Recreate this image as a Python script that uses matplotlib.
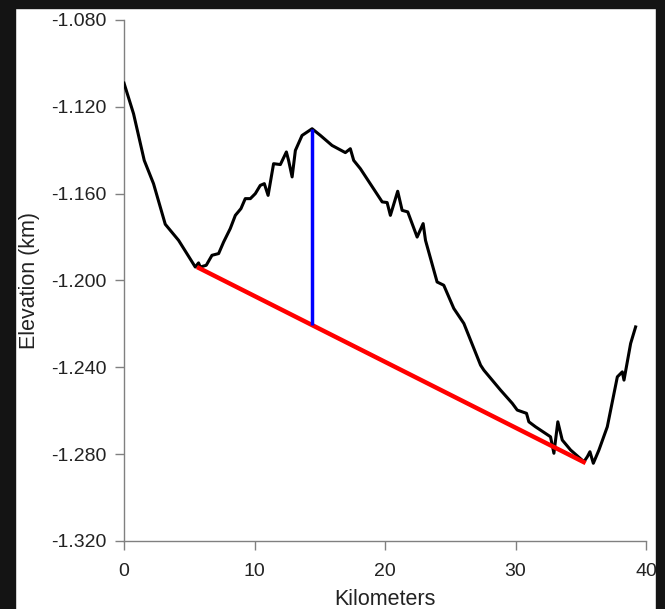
import matplotlib
matplotlib.use('Agg')
import matplotlib.pyplot as plt
from matplotlib.patches import Rectangle

# profile (km, km)
dist = [0.0, 0.73, 1.55, 2.26, 3.16, 4.18, 5.46, 5.71, 5.84, 6.30, 6.74, 7.25,
        7.63, 8.14, 8.53, 8.96, 9.29, 9.68, 10.06, 10.44, 10.75, 11.04, 11.46,
        11.98, 12.44, 12.61, 12.88, 13.13, 13.64, 14.41, 15.05, 15.94, 16.96,
        17.34, 17.60, 18.11, 19.78, 20.16, 20.41, 20.97, 21.31, 21.74, 22.46,
        22.92, 23.10, 23.99, 24.50, 25.27, 26.04, 27.32, 27.57, 28.85, 29.75,
        30.13, 30.84, 31.02, 31.53, 32.68, 32.94, 33.24, 33.58, 34.22, 35.24,
        35.50, 35.70, 35.96, 36.39, 37.03, 37.80, 38.18, 38.31, 38.82, 39.20]
elev = [-1.1091, -1.1232, -1.1447, -1.1554, -1.1741, -1.1815, -1.1938, -1.1919,
        -1.1938, -1.1930, -1.1884, -1.1876, -1.1823, -1.1761, -1.1700, -1.1669,
        -1.1623, -1.1623, -1.1600, -1.1562, -1.1554, -1.1608, -1.1462, -1.1466,
        -1.1408, -1.1447, -1.1523, -1.1401, -1.1332, -1.1301, -1.1332, -1.1378,
        -1.1411, -1.1393, -1.1447, -1.1485, -1.1638, -1.1641, -1.1700, -1.1589,
        -1.1677, -1.1684, -1.1800, -1.1738, -1.1815, -1.2007, -1.2022, -1.2129,
        -1.2198, -1.2390, -1.2413, -1.2505, -1.2566, -1.2597, -1.2612, -1.2651,
        -1.2674, -1.2720, -1.2796, -1.2651, -1.2735, -1.2781, -1.2835, -1.2812,
        -1.2789, -1.2842, -1.2781, -1.2674, -1.2444, -1.2421, -1.2459, -1.2290,
        -1.2214]

# baseline (red) and height (blue)
base_x = [5.59, 35.37]
base_y = [-1.1938, -1.2841]
peak_x = [14.41, 14.41]
peak_y = [-1.1301, -1.2205]

xticks = [0, 10, 20, 30, 40]
yticks = [-1.080, -1.120, -1.160, -1.200, -1.240, -1.280, -1.320]
ylabels = ['-1.080', '-1.120', '-1.160', '-1.200', '-1.240', '-1.280', '-1.320']

plt.rcParams['font.family'] = ['Liberation Sans', 'DejaVu Sans']

fig = plt.figure(figsize=(6.65, 6.09), dpi=100, facecolor='white')
ax = fig.add_axes([0.1865, 0.1117, 0.785, 0.8555])

ax.plot(dist, elev, color='black', lw=2.2, solid_joinstyle='round', zorder=3)
ax.plot(base_x, base_y, color='#ff0000', lw=3.2, solid_capstyle='butt', zorder=4)
ax.plot(peak_x, peak_y, color='#0000ff', lw=2.5, solid_capstyle='butt', zorder=4)

ax.set_xlim(0, 40)
ax.set_ylim(-1.320, -1.080)
ax.set_xticks(xticks)
ax.set_yticks(yticks)
ax.set_yticklabels(ylabels)

for s in ['top', 'right']:
    ax.spines[s].set_visible(False)
for s in ['left', 'bottom']:
    ax.spines[s].set_color('#808080')
    ax.spines[s].set_linewidth(1.0)

ax.tick_params(direction='out', length=6.5, width=1.0, color='#808080',
               labelsize=14, labelcolor='#222222', pad=6)
ax.tick_params(axis='x', pad=9)

ax.set_xlabel('Kilometers', fontsize=15.5, color='#222222', labelpad=7)
ax.set_ylabel('Elevation (km)', fontsize=15.5, color='#222222', labelpad=8)

# dark frame around the picture
W, H = 665, 609
frame = '#141414'
fig.patches.append(Rectangle((0, 0), 15 / W, 1, transform=fig.transFigure,
                             color=frame, zorder=10))
fig.patches.append(Rectangle((0, 1 - 8 / H), 1, 8 / H, transform=fig.transFigure,
                             color=frame, zorder=10))
fig.patches.append(Rectangle((656 / W, 0), 9 / W, 1, transform=fig.transFigure,
                             color=frame, zorder=10))

fig.savefig('out.png', dpi=100, facecolor='white')
